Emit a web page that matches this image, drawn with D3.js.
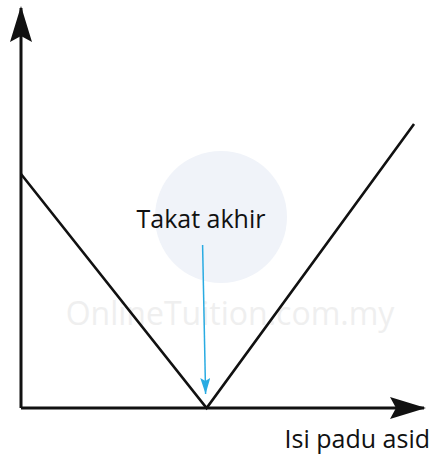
<!DOCTYPE html>
<html>
<head>
<meta charset="utf-8">
<script src="https://cdn.jsdelivr.net/npm/d3@7"></script>
<style>
    html, body { margin: 0; padding: 0; background: #fff; }
    svg { display: block; }
</style>
</head>
<body>
<div id="chart"></div>
<script>
// Conductometric titration curve (volume of acid vs conductivity)
const volume = [0, 18.7, 39.6];
const conductivity = [5.85, 0, 7.1];
const endPointVolume = 18.7;
const endPointLabel = 'Takat akhir';
const xAxisLabel = 'Isi padu asid';
const watermarkText = 'OnlineTuition.com.my';

const width = 433;
const height = 455;

const x = d3.scaleLinear()
    .domain([0, 40])
    .range([21, 418]);

const y = d3.scaleLinear()
    .domain([0, 10])
    .range([408, 8]);

const svg = d3.select('#chart')
    .append('svg')
    .attr('width', width)
    .attr('height', height);

// Watermark
svg.append('circle')
    .attr('cx', 221)
    .attr('cy', 217)
    .attr('r', 66)
    .attr('fill', '#f0f3f9');

svg.append('text')
    .attr('x', 230)
    .attr('y', 325)
    .attr('text-anchor', 'middle')
    .style('font-family', 'Open Sans, sans-serif')
    .style('font-size', '32px')
    .style('fill', '#efefef')
    .text(watermarkText);

// Arrowheads
const defs = svg.append('defs');
defs.append('marker')
    .attr('id', 'axisArrow')
    .attr('viewBox', '0 0 36 22')
    .attr('refX', 34)
    .attr('refY', 11)
    .attr('markerWidth', 36)
    .attr('markerHeight', 22)
    .attr('markerUnits', 'userSpaceOnUse')
    .attr('orient', 'auto')
    .append('path')
    .attr('d', 'M0,0 L36,11 L0,22 L6,11 Z')
    .attr('fill', '#111');

defs.append('marker')
    .attr('id', 'blueArrow')
    .attr('viewBox', '0 0 16 10')
    .attr('refX', 16)
    .attr('refY', 5)
    .attr('markerWidth', 16)
    .attr('markerHeight', 10)
    .attr('markerUnits', 'userSpaceOnUse')
    .attr('orient', 'auto')
    .append('path')
    .attr('d', 'M0,0 L16,5 L0,10 L3,5 Z')
    .attr('fill', '#29abe2');

// Axes
svg.append('line')
    .attr('x1', x(0)).attr('y1', y(0))
    .attr('x2', x(0)).attr('y2', y(10))
    .attr('stroke', '#111')
    .attr('stroke-width', 3)
    .attr('marker-end', 'url(#axisArrow)');

svg.append('line')
    .attr('x1', x(0)).attr('y1', y(0))
    .attr('x2', x(40) + 6).attr('y2', y(0))
    .attr('stroke', '#111')
    .attr('stroke-width', 3)
    .attr('marker-end', 'url(#axisArrow)');

// Curve
const line = d3.line()
    .x((d, i) => x(volume[i]))
    .y(d => y(d));

svg.append('path')
    .datum(conductivity)
    .attr('d', line)
    .attr('fill', 'none')
    .attr('stroke', '#111')
    .attr('stroke-width', 2.6);

// End point annotation
svg.append('text')
    .attr('x', 201)
    .attr('y', 228)
    .attr('text-anchor', 'middle')
    .style('font-family', 'Open Sans, sans-serif')
    .style('font-size', '25px')
    .style('fill', '#111')
    .text(endPointLabel);

svg.append('line')
    .attr('x1', x(endPointVolume) - 4).attr('y1', 245)
    .attr('x2', x(endPointVolume) - 1).attr('y2', y(0) - 14)
    .attr('stroke', '#29abe2')
    .attr('stroke-width', 1.5)
    .attr('marker-end', 'url(#blueArrow)');

// X axis label
svg.append('text')
    .attr('x', 430)
    .attr('y', 448)
    .attr('text-anchor', 'end')
    .style('font-family', 'Open Sans, sans-serif')
    .style('font-size', '25px')
    .style('fill', '#111')
    .text(xAxisLabel);
</script>
</body>
</html>
